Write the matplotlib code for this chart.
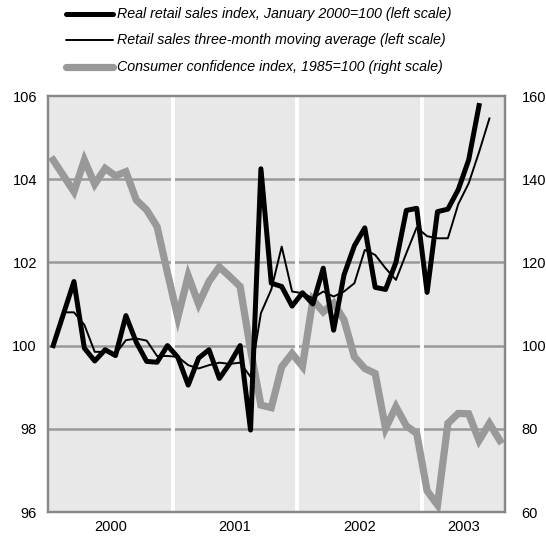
import matplotlib
matplotlib.use("Agg")
import matplotlib.pyplot as plt
from matplotlib.lines import Line2D
import numpy as np

plt.rcParams['font.family'] = ['Liberation Sans', 'DejaVu Sans']

# Monthly data, January 2000 onward
retail = [100.0, 100.77, 101.54, 99.94, 99.63, 99.9, 99.76, 100.72, 100.08, 99.62, 99.6, 100.0,
          99.72, 99.05, 99.7, 99.9, 99.21, 99.57, 100.0, 97.97, 104.25, 101.5, 101.42, 100.95,
          101.27, 101.0, 101.86, 100.37, 101.7, 102.4, 102.83, 101.4, 101.35, 102.0, 103.25, 103.3,
          101.28, 103.22, 103.28, 103.75, 104.46, 105.77]
# three-month moving average (starts February 2000)
moving_avg = [100.8, 100.8, 100.5, 99.85, 99.85, 99.8, 100.13, 100.17, 100.12, 99.75, 99.75,
              99.73, 99.53, 99.45, 99.53, 99.59, 99.56, 99.59, 99.25, 100.78, 101.35, 102.38, 101.3,
              101.26, 101.14, 101.3, 101.18, 101.3, 101.5, 102.3, 102.18, 101.86, 101.58, 102.22, 102.84,
              102.63, 102.58, 102.58, 103.4, 103.9, 104.65, 105.46]
confidence = [144.6, 140.8, 137.0, 144.6, 138.8, 142.6, 140.8, 141.8, 135.0, 132.6, 128.6, 117.5,
              106.8, 116.8, 110.0, 115.4, 118.9, 116.6, 114.2, 99.0, 85.7, 85.1, 94.9, 98.1,
              95.0, 111.0, 108.1, 110.2, 106.2, 97.3, 94.5, 93.3, 80.1, 85.3, 80.7, 78.9,
              65.1, 61.7, 81.3, 83.7, 83.6, 77.2, 81.3, 77.2]
years = ['2000', '2001', '2002', '2003']
year_starts = [0, 12, 24, 36]
year_ends = [12, 24, 36, 44]
left_ticks = [96, 98, 100, 102, 104, 106]
right_ticks = [60, 80, 100, 120, 140, 160]
labels = ['Real retail sales index, January 2000=100 (left scale)',
          'Retail sales three-month moving average (left scale)',
          'Consumer confidence index, 1985=100 (right scale)']

x_retail = np.arange(len(retail)) + 0.5
x_ma = np.arange(1, 1 + len(moving_avg)) + 0.5
x_conf = np.arange(len(confidence)) + 0.5

fig = plt.figure(figsize=(5.46, 5.47), dpi=100)
ax2 = fig.add_axes([48/546, 35/547, 457/546, 416/547])
ax = ax2.twinx()
ax.yaxis.tick_left()
ax2.yaxis.tick_right()

bg = '#e8e8e8'
gridc = '#999999'
ax2.set_facecolor(bg)
ax.patch.set_visible(False)
ax.set_zorder(ax2.get_zorder() + 1)

ax2.set_xlim(0, 44)
ax2.set_ylim(60, 160)
ax.set_ylim(96, 106)

for t in right_ticks[1:-1]:
    ax2.axhline(t, color=gridc, lw=1.8, zorder=1)
for xs in year_starts[1:]:
    ax2.axvline(xs, color='white', lw=2.8, zorder=2)

ax2.plot(x_conf, confidence, color='#999999', lw=5.2, zorder=3, solid_joinstyle='miter')
ax.plot(x_retail, retail, color='black', lw=3.6, zorder=4)
ax.plot(x_ma, moving_avg, color='black', lw=1.4, zorder=5)

ax.set_yticks(left_ticks)
ax2.set_yticks(right_ticks)
mid = [(a + b) / 2 for a, b in zip(year_starts, year_ends)]
ax2.set_xticks(mid)
ax2.set_xticklabels(years)
ax.tick_params(axis='y', length=0, pad=8, labelsize=10.5)
ax2.tick_params(axis='y', length=0, pad=12, labelsize=10.5)
ax2.tick_params(axis='x', length=0, pad=6, labelsize=10.5)
for a in (ax, ax2):
    for s in a.spines.values():
        s.set_color('#888888')
        s.set_linewidth(1.6)

# legend
handles = [dict(color='black', lw=3.6), dict(color='black', lw=1.4), dict(color='#999999', lw=5.2)]
ys = [14, 40, 67]
for h, yy, lab in zip(handles, ys, labels):
    yf = 1 - yy / 547
    fig.add_artist(Line2D([66/546, 113/546], [yf, yf], transform=fig.transFigure,
                          solid_capstyle='round', **h))
    fig.text(117/546, yf, lab, fontsize=10.3, style='italic', va='center', ha='left')

fig.savefig('out.png', dpi=100)
